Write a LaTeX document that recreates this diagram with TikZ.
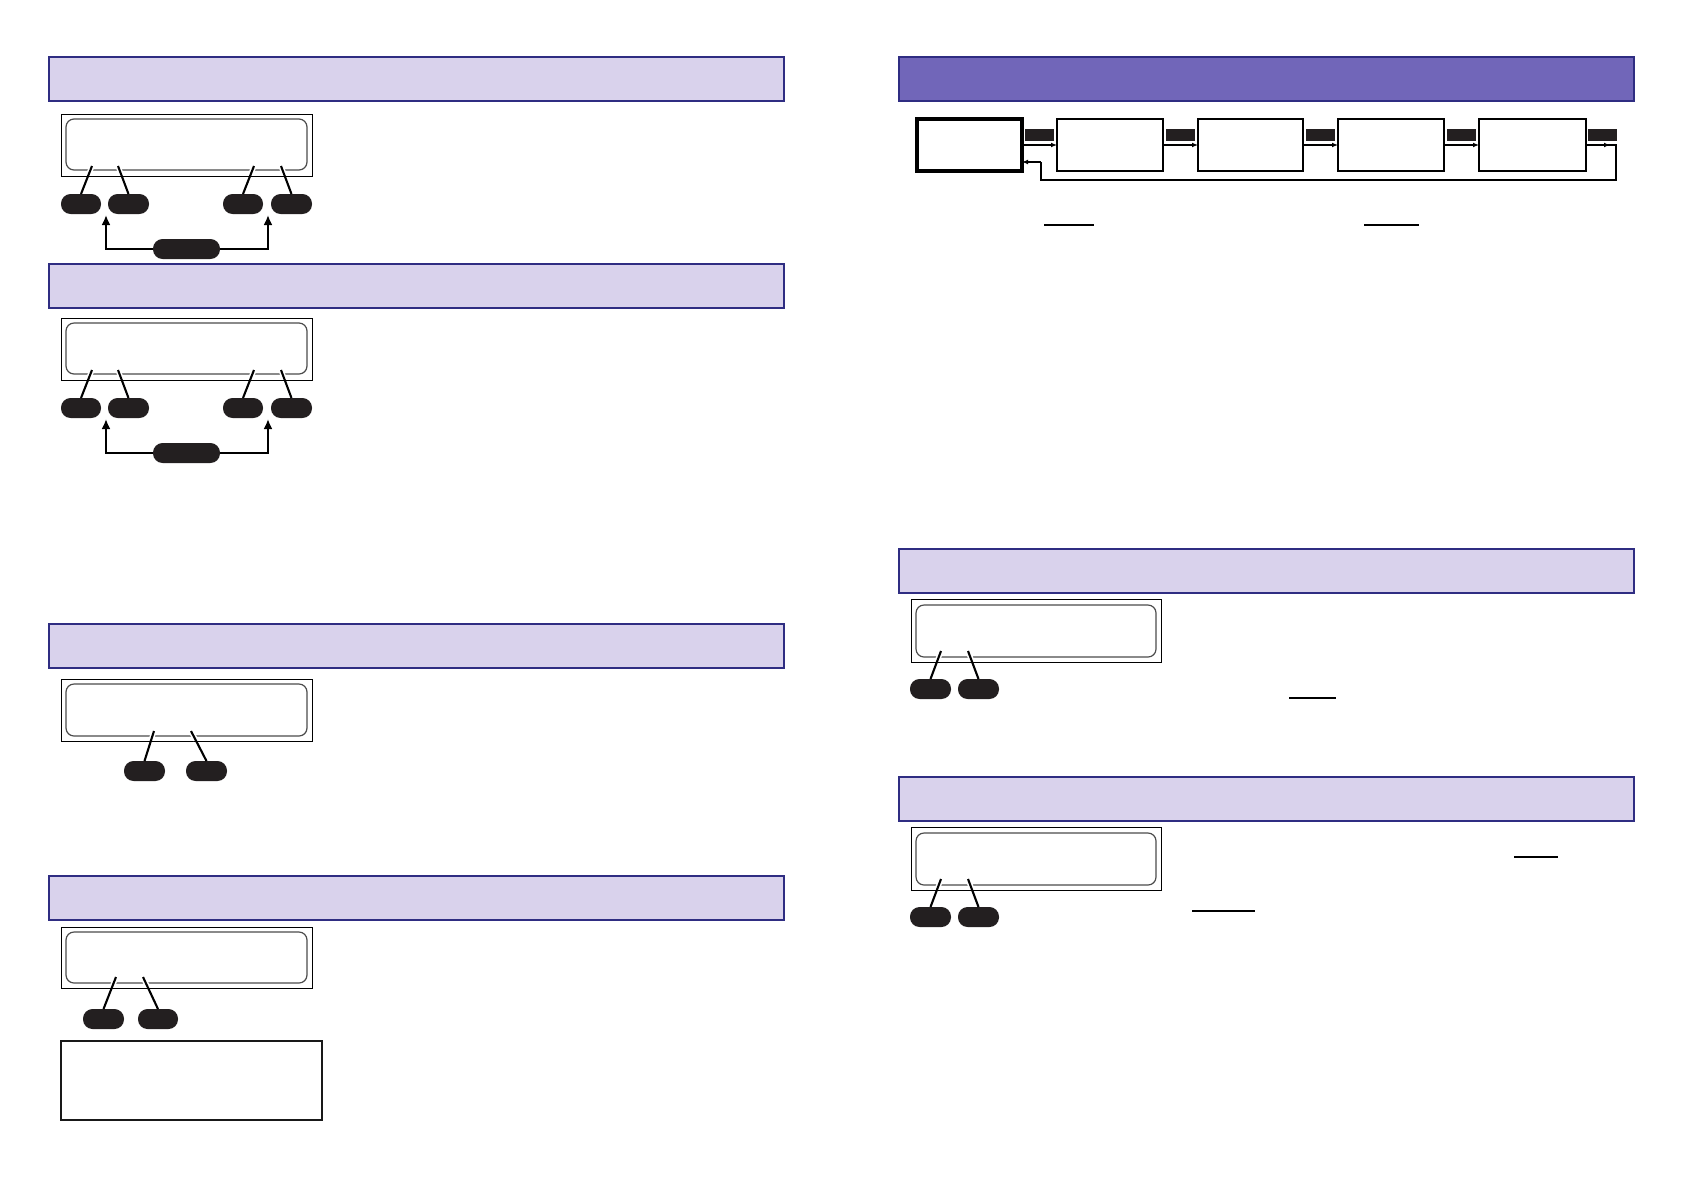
\documentclass[tikz,border=0pt]{standalone}
\usetikzlibrary{arrows.meta,calc}
\definecolor{hdrfill}{HTML}{D9D2EC}
\definecolor{hdrline}{HTML}{2F2D82}
\definecolor{hdrdark}{HTML}{7166B9}
\definecolor{pillc}{HTML}{231F20}
\newcommand\mkbox[6]{\node[#2, minimum width={0.5pt*(#5-#3)}, minimum height={0.5pt*(#6-#4)}, inner sep=0pt, outer sep=0pt] (#1) at ({(#3+#5)/2},{(#4+#6)/2}) {};}
\tikzset{
  hdr/.style={draw=hdrline, fill=hdrfill, line width=1pt},
  hdrd/.style={draw=hdrline, fill=hdrdark, line width=1pt},
  lcdout/.style={draw=black, line width=0.45pt},
  lcdin/.style={draw=black!70, line width=0.6pt, rounded corners=4pt},
  pill/.style={fill=pillc, rounded corners=4.8pt},
  lead/.style={line width=1.05pt},
  halo/.style={draw=white, line width=2.6pt},
  loop/.style={line width=1pt, -{Latex[length=5pt,width=4.5pt]}},
  chain/.style={draw=black, line width=0.6pt},
  chainthick/.style={draw=black, line width=1.8pt},
  tag/.style={fill=pillc},
  flow/.style={line width=0.55pt, -{Latex[length=3pt,width=2.4pt]}},
  uline/.style={line width=0.6pt},
  notebox/.style={draw=black!90, line width=1.1pt}
}
\begin{document}
\begin{tikzpicture}[x=0.5pt,y=-0.5pt]
\useasboundingbox (0,0) rectangle (1684,1190);
\fill[white] (0,0) rectangle (1684,1190);

% ---------------- left column ----------------
\foreach \s/\hy/\off in {a/57/0, b/264/204}{
  \mkbox{h\s}{hdr}{49}{\hy}{784}{\hy+44}
  \begin{scope}[shift={(0,\off)}]
    \mkbox{lo\s}{lcdout}{61}{114}{312}{176}
    \mkbox{li\s}{lcdin}{66}{119}{307}{170}
    \mkbox{k1\s}{pill}{61}{194}{101}{214}
    \mkbox{k2\s}{pill}{108}{194}{149}{214}
    \mkbox{k3\s}{pill}{223}{194}{263}{214}
    \mkbox{k4\s}{pill}{271}{194}{312}{214}
    \mkbox{m\s}{pill}{153}{239}{220}{259}
    \coordinate (c1\s) at (92,166);
    \coordinate (c2\s) at (118,166);
    \coordinate (c3\s) at (254,166);
    \coordinate (c4\s) at (281,166);
    \coordinate (al\s) at (106,215);
    \coordinate (ar\s) at (268,215);
  \end{scope}
  \foreach \i in {1,2,3,4}{
    \draw[halo] (c\i\s) -- ($(c\i\s)!0.3!(k\i\s.north)$);
    \draw[lead] (c\i\s) -- (k\i\s.north);
  }
  \draw[loop] (m\s.west) -| (al\s);
  \draw[loop] (m\s.east) -| (ar\s);
}

% section 3
\mkbox{hc}{hdr}{49}{624}{784}{668}
\mkbox{loc}{lcdout}{61}{679}{312}{741}
\mkbox{lic}{lcdin}{66}{684}{307}{736}
\mkbox{k1c}{pill}{124}{761}{165}{781}
\mkbox{k2c}{pill}{186}{761}{227}{781}
\coordinate (c1c) at (154,731);
\coordinate (c2c) at (191,731);
\foreach \i in {1,2}{
  \draw[halo] (c\i c) -- ($(c\i c)!0.3!(k\i c.north)$);
  \draw[lead] (c\i c) -- (k\i c.north);
}

% section 4
\mkbox{hd}{hdr}{49}{876}{784}{920}
\mkbox{lod}{lcdout}{61}{927}{312}{988}
\mkbox{lid}{lcdin}{66}{932}{307}{983}
\mkbox{k1d}{pill}{83}{1009}{124}{1029}
\mkbox{k2d}{pill}{138}{1009}{178}{1029}
\coordinate (c1d) at (116,977);
\coordinate (c2d) at (143,977);
\foreach \i in {1,2}{
  \draw[halo] (c\i d) -- ($(c\i d)!0.3!(k\i d.north)$);
  \draw[lead] (c\i d) -- (k\i d.north);
}
\mkbox{note}{notebox}{61}{1041}{322}{1120}

% ---------------- right column ----------------
\mkbox{hr}{hdrd}{899}{57}{1634}{101}
\mkbox{b0}{chainthick}{917}{119}{1022}{171}
\mkbox{b1}{chain}{1057}{119}{1163}{171}
\mkbox{b2}{chain}{1198}{119}{1303}{171}
\mkbox{b3}{chain}{1338}{119}{1444}{171}
\mkbox{b4}{chain}{1479}{119}{1586}{171}
\mkbox{t1}{tag}{1025}{129}{1054}{141}
\mkbox{t2}{tag}{1166}{129}{1195}{141}
\mkbox{t3}{tag}{1306}{129}{1335}{141}
\mkbox{t4}{tag}{1447}{129}{1476}{141}
\mkbox{t5}{tag}{1588}{129}{1617}{141}
\draw[flow] (b0.east) -- (b1.west);
\draw[flow] (b1.east) -- (b2.west);
\draw[flow] (b2.east) -- (b3.west);
\draw[flow] (b3.east) -- (b4.west);
\coordinate (fbhead) at (1610,145);
\coordinate (fbcorner) at (1616,145);
\coordinate (fbturn) at (1041,162);
\draw[flow] (b4.east) -- (fbhead);
\draw[line width=0.55pt] (1606,145) -- (fbcorner) -- (1616,180) -- (1041,180) -- (fbturn);
\draw[flow] (fbturn) -- (b0.east |- fbturn);
\coordinate (u1a) at (1044,225); \coordinate (u1b) at (1094,225);
\coordinate (u2a) at (1364,225); \coordinate (u2b) at (1419,225);
\draw[uline] (u1a) -- (u1b);
\draw[uline] (u2a) -- (u2b);

% sections 5 and 6
\foreach \s/\off in {e/0, f/228}{
  \begin{scope}[shift={(0,\off)}]
    \mkbox{h\s}{hdr}{899}{549}{1634}{593}
    \mkbox{lo\s}{lcdout}{911}{599}{1161}{662}
    \mkbox{li\s}{lcdin}{916}{605}{1156}{657}
    \mkbox{k1\s}{pill}{910}{679}{951}{699}
    \mkbox{k2\s}{pill}{958}{679}{999}{699}
    \coordinate (c1\s) at (941,651);
    \coordinate (c2\s) at (968,651);
  \end{scope}
  \foreach \i in {1,2}{
    \draw[halo] (c\i\s) -- ($(c\i\s)!0.3!(k\i\s.north)$);
    \draw[lead] (c\i\s) -- (k\i\s.north);
  }
}
\coordinate (u3a) at (1289,698); \coordinate (u3b) at (1336,698);
\coordinate (u4a) at (1514,857); \coordinate (u4b) at (1558,857);
\coordinate (u5a) at (1192,911); \coordinate (u5b) at (1255,911);
\draw[uline] (u3a) -- (u3b);
\draw[uline] (u4a) -- (u4b);
\draw[uline] (u5a) -- (u5b);
\end{tikzpicture}
\end{document}
